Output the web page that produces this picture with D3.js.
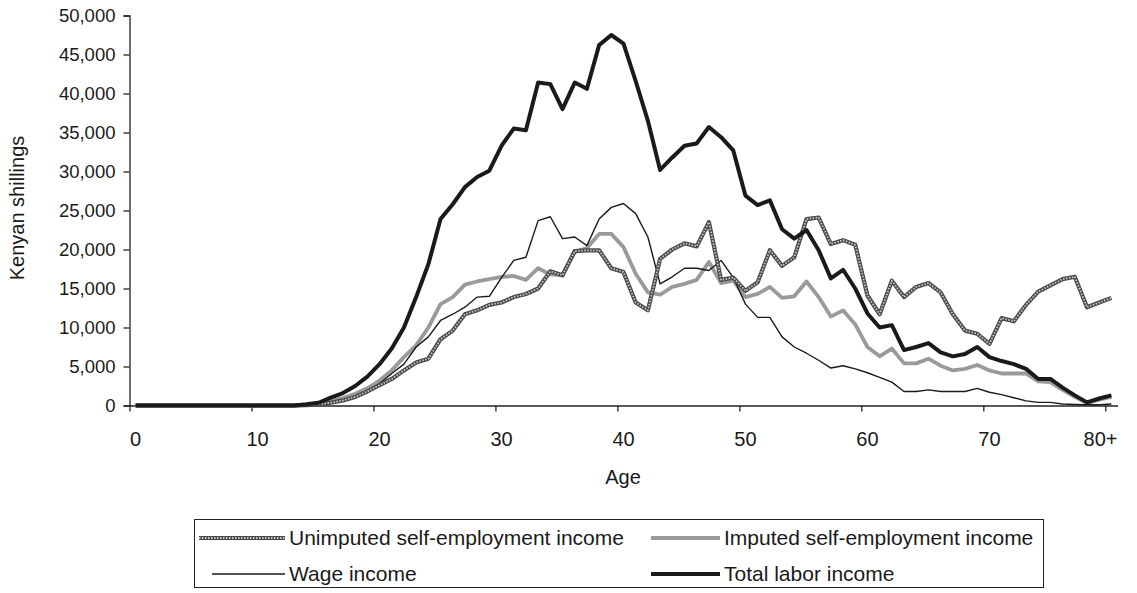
<!DOCTYPE html>
<html><head><meta charset="utf-8">
<script src="https://cdn.jsdelivr.net/npm/d3@7"></script>
<style>
body{margin:0;background:#fff;}
text{font-family:"Liberation Sans",Arial,sans-serif;fill:#1a1a1a;}
</style></head>
<body><svg id="c" width="1137" height="593"></svg>
<script>
const ages = d3.range(0, 81);
const ageLabels = ["0","10","20","30","40","50","60","70","80+"];
const yTicks = [0,5000,10000,15000,20000,25000,30000,35000,40000,45000,50000];
const z13 = new Array(14).fill(0);
const unimputed = z13.concat([50,150,350,650,1100,1800,2600,3400,4500,5500,6000,8500,9600,11700,12200,12900,13200,13900,14300,15000,17200,16700,19800,19900,19900,17600,17100,13200,12200,18800,20000,20800,20400,23500,16100,16400,14700,15800,19900,17900,19000,23900,24100,20700,21200,20600,14100,11700,16000,13900,15200,15700,14500,11700,9600,9200,7900,11200,10800,12900,14600,15400,16200,16500,12600,13200,13800]);
const imputed = z13.concat([80,250,550,950,1500,2200,3200,4500,6200,7700,10000,13000,13900,15500,15900,16200,16500,16600,16100,17600,16800,16700,19700,20200,22000,22000,20300,16900,14500,14200,15200,15600,16100,18400,15700,16000,13900,14300,15200,13800,14000,15900,13900,11400,12200,10400,7500,6300,7300,5400,5400,6000,5100,4500,4700,5200,4500,4100,4100,4100,3100,3000,2000,1100,300,750,1100]);
const wage = z13.concat([50,200,400,700,1200,1800,2800,4100,5300,7500,8800,10900,11700,12600,13900,14000,16400,18600,19000,23700,24200,21400,21600,20500,23900,25400,25900,24600,21600,15600,16500,17600,17600,17300,18600,16400,13000,11300,11300,8800,7500,6700,5800,4800,5100,4700,4200,3600,3000,1800,1800,2000,1800,1800,1800,2200,1700,1400,1000,600,400,400,200,130,90,100,200]);
const total = z13.concat([150,350,1000,1600,2500,3700,5300,7300,10000,13900,18100,23900,25800,28000,29300,30100,33300,35500,35300,41400,41200,38000,41400,40600,46200,47500,46400,41600,36500,30200,31800,33300,33600,35700,34400,32700,26900,25700,26300,22600,21400,22500,19900,16300,17400,15000,11800,10000,10300,7100,7500,8000,6800,6300,6600,7500,6200,5700,5300,4700,3400,3400,2300,1300,400,900,1300]);
const seriesNames = ["Unimputed self-employment income","Imputed self-employment income","Wage income","Total labor income"];

const svg = d3.select("#c");
const x = d3.scaleLinear().domain([0, 81]).range([129.5, 1117.5]);
const y = d3.scaleLinear().domain([0, 50000]).range([405.5, 15.5]);
const fmt = d3.format(",");

// y axis
const ya = svg.append("g").attr("transform","translate(129.5,0)")
  .call(d3.axisLeft(y).tickValues(yTicks).tickSize(6).tickPadding(8).tickFormat(fmt));
ya.select(".domain").attr("stroke","#222").attr("stroke-width",1.3);
ya.selectAll(".tick line").attr("stroke","#222").attr("stroke-width",1.3);
ya.selectAll(".tick text").style("font-size","18.5px").style("font-family","Liberation Sans, Arial, sans-serif").attr("fill","#1a1a1a");

// x axis
const xa = svg.append("g").attr("transform","translate(0,405.5)")
  .call(d3.axisBottom(x).tickValues(d3.range(0,81,10)).tickSize(6).tickSizeOuter(0).tickFormat(""));
xa.select(".domain").attr("stroke","#222").attr("stroke-width",1.3);
xa.selectAll(".tick line").attr("stroke","#222").attr("stroke-width",1.3);
svg.append("g").selectAll("text").data(ageLabels).join("text")
  .attr("x",(d,i)=> i===ageLabels.length-1 ? x(81) : x(i*10+0.5))
  .attr("y",446)
  .attr("text-anchor",(d,i)=> i===ageLabels.length-1 ? "end" : "middle")
  .style("font-size","20px").text(d=>d);

svg.append("text").attr("x",623).attr("y",484).attr("text-anchor","middle").style("font-size","20px").text("Age");
svg.append("text").attr("transform","translate(24,208) rotate(-90)").attr("text-anchor","middle").style("font-size","20px").text("Kenyan shillings");

const line = d3.line().x((d,i)=>x(i+0.5)).y(d=>y(d));
const g = svg.append("g").attr("fill","none").attr("stroke-linejoin","round");
g.append("path").datum(imputed).attr("d",line).attr("stroke","#9a9a9a").attr("stroke-width",3.8);
g.append("path").datum(wage).attr("d",line).attr("stroke","#1a1a1a").attr("stroke-width",1.4);
g.append("path").datum(unimputed).attr("d",line).attr("stroke","#4a4a4a").attr("stroke-width",4.2);
g.append("path").datum(unimputed).attr("d",line).attr("stroke","#c8c8c8").attr("stroke-width",1.8).attr("stroke-dasharray","1.5 1.5");
g.append("path").datum(total).attr("d",line).attr("stroke","#1a1a1a").attr("stroke-width",4);

// legend
const lg = svg.append("g");
lg.append("rect").attr("x",194.5).attr("y",519.5).attr("width",849).attr("height",68).attr("fill","none").attr("stroke","#222").attr("stroke-width",1);
const items = [
  {n:seriesNames[0], x1:199, x2:285, y:538, s:"unimp"},
  {n:seriesNames[1], x1:651, x2:720, y:538, s:"imp"},
  {n:seriesNames[2], x1:212, x2:285, y:574, s:"wage"},
  {n:seriesNames[3], x1:651, x2:720, y:574, s:"total"}
];
items.forEach(it=>{
  if(it.s==="unimp"){
    lg.append("line").attr("x1",it.x1).attr("x2",it.x2).attr("y1",it.y).attr("y2",it.y).attr("stroke","#4a4a4a").attr("stroke-width",4.2);
    lg.append("line").attr("x1",it.x1).attr("x2",it.x2).attr("y1",it.y).attr("y2",it.y).attr("stroke","#c8c8c8").attr("stroke-width",1.8).attr("stroke-dasharray","1.5 1.5");
  } else {
    const st = {imp:["#9a9a9a",3.8],wage:["#1a1a1a",1.4],total:["#1a1a1a",4]}[it.s];
    lg.append("line").attr("x1",it.x1).attr("x2",it.x2).attr("y1",it.y).attr("y2",it.y).attr("stroke",st[0]).attr("stroke-width",st[1]);
  }
  lg.append("text").attr("x",it.x2+4).attr("y",it.y).attr("dy","0.35em").style("font-size","21px").text(it.n);
});
</script></body></html>
